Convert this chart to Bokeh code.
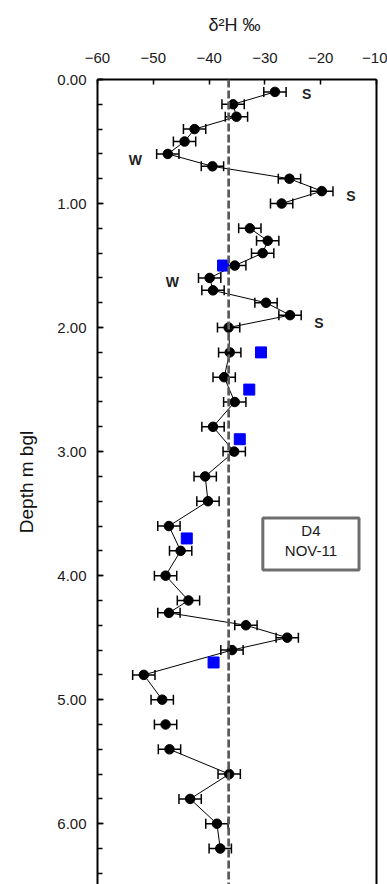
import math
from bokeh.plotting import figure
from bokeh.models import (ColumnDataSource, Whisker, TeeHead, Span, BoxAnnotation,
                          FixedTicker, NumeralTickFormatter, LinearAxis, Range1d)
from bokeh.core.properties import value
from bokeh.embed import file_html
from bokeh.resources import INLINE

# ---- data ----
depth = [0.1, 0.2, 0.3, 0.4, 0.5, 0.6, 0.7, 0.8, 0.9, 1.0, 1.1, 1.2, 1.3, 1.4, 1.5,
         1.6, 1.7, 1.8, 1.9, 2.0, 2.2, 2.4, 2.6, 2.8, 3.0, 3.2, 3.4, 3.6, 3.8, 4.0,
         4.2, 4.3, 4.4, 4.5, 4.6, 4.8, 5.0, 5.1, 5.2, 5.3, 5.4, 5.6, 5.8, 6.0, 6.2]
d2h = [-28.2, -35.7, -35.1, -42.6, -44.4, -47.4, -39.4, -25.6, -19.8, -27.0, None,
       -32.7, -29.5, -30.4, -35.4, -39.9, -39.3, -29.8, -25.5, -36.5, -36.3, -37.3,
       -35.4, -39.3, -35.5, -40.7, -40.2, -47.2, -45.1, -47.8, -43.7, -47.2, -33.4,
       -26.0, -35.9, -51.7, -48.4, None, -47.8, None, -47.1, -36.4, -43.4, -38.6, -38.0]
err = 2.0

gw_depth = [1.5, 2.2, 2.5, 2.9, 3.7, 4.7]
gw_d2h = [-37.5, -30.7, -32.8, -34.5, -44.0, -39.2]

mean_d2h = -36.5

season_text = ["S", "W", "S", "W", "S"]
season_x = [-22.5, -53.2, -14.6, -46.6, -20.3]
season_y = [0.115, 0.65, 0.94, 1.635, 1.96]

x_ticks = [-60, -50, -40, -30, -20, -10]
y_ticks = [0, 1, 2, 3, 4, 5, 6]
y_minor = [i / 5 for i in range(0, 33)]

box_lines = ["D4", "NOV-11"]

# ---- sources ----
line_x = [float("nan") if v is None else v for v in d2h]
line_src = ColumnDataSource(dict(x=line_x, y=depth))
pts = [(d, v) for d, v in zip(depth, d2h) if v is not None]
pt_src = ColumnDataSource(dict(
    y=[p[0] for p in pts], x=[p[1] for p in pts],
    lo=[p[1] - err for p in pts], hi=[p[1] + err for p in pts]))

FONT = "Liberation Sans"

p = figure(width=387, height=884, output_backend="svg", toolbar_location=None,
           x_range=Range1d(-60, -10), y_range=Range1d(6.49, 0),
           x_axis_location="above", min_border_left=97, min_border_right=11,
           min_border_top=79, min_border_bottom=0,
           background_fill_color="white", border_fill_color="white")
p.outline_line_color = None
p.xgrid.visible = False
p.ygrid.visible = False

# top axis
xa = p.xaxis[0]
xa.ticker = FixedTicker(ticks=x_ticks, minor_ticks=[])
xa.major_tick_in = 5
xa.major_tick_out = 0
xa.minor_tick_in = 0
xa.minor_tick_out = 0
xa.axis_line_width = 2
xa.major_tick_line_width = 1.5
xa.major_label_standoff = 17
xa.major_label_text_font = FONT
xa.major_label_text_font_size = "15px"
xa.major_label_text_color = "#1a1a1a"
xa.axis_label = "δ²H  ‰"
xa.axis_label_text_font = FONT
xa.axis_label_text_font_size = "18px"
xa.axis_label_text_font_style = "normal"
xa.axis_label_text_color = "#1a1a1a"
xa.axis_label_standoff = 15

# left axis
ya = p.yaxis[0]
ya.ticker = FixedTicker(ticks=y_ticks, minor_ticks=y_minor)
ya.formatter = NumeralTickFormatter(format="0.00")
ya.major_tick_in = 6
ya.major_tick_out = 0
ya.minor_tick_in = 5
ya.minor_tick_out = 0
ya.axis_line_width = 2
ya.major_tick_line_width = 1.5
ya.minor_tick_line_width = 1.5
ya.major_label_standoff = 11
ya.major_label_text_font = FONT
ya.major_label_text_font_size = "15px"
ya.major_label_text_color = "#1a1a1a"
ya.axis_label = "Depth m bgl"
ya.axis_label_text_font = FONT
ya.axis_label_text_font_size = "19px"
ya.axis_label_text_font_style = "normal"
ya.axis_label_text_color = "#111111"
ya.axis_label_standoff = 17

# right border as axis
ra = LinearAxis(ticker=FixedTicker(ticks=[]), axis_line_width=2,
                major_tick_in=0, major_tick_out=0, minor_tick_in=0, minor_tick_out=0,
                major_label_standoff=0, major_label_text_font_size="0px")
p.add_layout(ra, "right")

# site box (under the glyphs so its text shows)
p.add_layout(BoxAnnotation(left=-30.37, right=-13.13, top=3.535, bottom=3.954,
                           fill_color="white", fill_alpha=1.0,
                           line_color="#6e6e6e", line_alpha=1.0, line_width=3,
                           level="underlay"))

# mean line
p.add_layout(Span(location=mean_d2h, dimension="height", line_color="#5a5a5a",
                  line_width=2.7, line_dash="8 3"))

# profile line
p.line("x", "y", source=line_src, line_color="black", line_width=1)

# error bars
wh = Whisker(base="y", lower="lo", upper="hi", dimension="width", source=pt_src,
             line_color="black", line_width=1.5,
             lower_head=TeeHead(size=10, line_color="black", line_width=1.5),
             upper_head=TeeHead(size=10, line_color="black", line_width=1.5))
p.add_layout(wh)

p.scatter("x", "y", source=pt_src, marker="circle", size=9.5,
          fill_color="black", line_color="black")

# groundwater squares
p.scatter(gw_d2h, gw_depth, marker="square", size=11,
          fill_color="#0000ff", line_color="#0000ff")

# season labels
p.text(season_x, season_y, text=season_text, text_font=value(FONT),
       text_font_size="14px", text_font_style="bold", text_color="#222222",
       text_align="center", text_baseline="middle")

p.text([-21.75, -21.75], [3.64, 3.795], text=box_lines, text_font=value(FONT),
       text_font_size="15px", text_color="#1a1a1a",
       text_align="center", text_baseline="middle")

open("out.html", "w").write(file_html(p, INLINE))
